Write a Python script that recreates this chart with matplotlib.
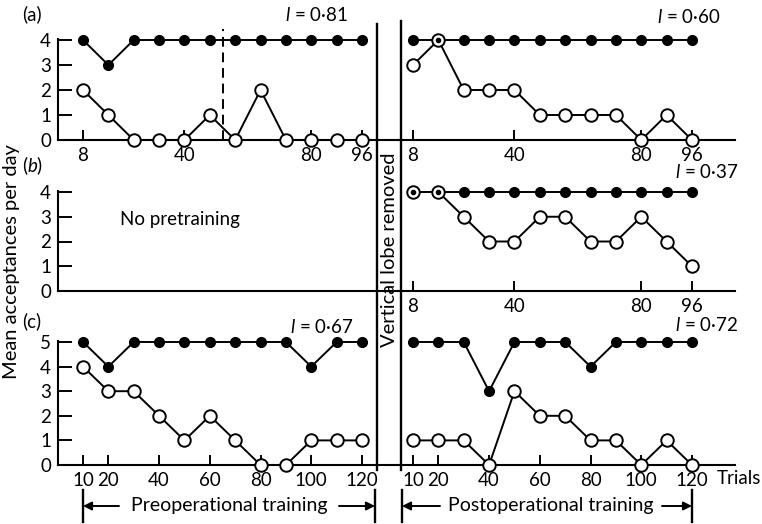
import matplotlib
matplotlib.use("Agg")
import matplotlib.pyplot as plt
from matplotlib.lines import Line2D
from matplotlib.patches import FancyArrowPatch

plt.rcParams["font.family"] = ["Lato", "DejaVu Sans"]
plt.rcParams["mathtext.fontset"] = "custom"
plt.rcParams["mathtext.it"] = "Lato:italic"
plt.rcParams["mathtext.rm"] = "Lato"

# Trials (x values)
trials_8 = [8, 16, 24, 32, 40, 48, 56, 64, 72, 80, 88, 96]
trials_10 = [10, 20, 30, 40, 50, 60, 70, 80, 90, 100, 110, 120]
ticks_8 = [8, 40, 80, 96]
ticks_10 = [10, 20, 40, 60, 80, 100, 120]

# (a) pre / post operation
a_pre_filled = [4, 3, 4, 4, 4, 4, 4, 4, 4, 4, 4, 4]
a_pre_open = [2, 1, 0, 0, 0, 1, 0, 2, 0, 0, 0, 0]
a_post_filled = [4, 4, 4, 4, 4, 4, 4, 4, 4, 4, 4, 4]
a_post_open = [3, 4, 2, 2, 2, 1, 1, 1, 1, 0, 1, 0]
a_dashed_trial = 52

# (b) only post operation
b_post_filled = [4, 4, 4, 4, 4, 4, 4, 4, 4, 4, 4, 4]
b_post_open = [4, 4, 3, 2, 2, 3, 3, 2, 2, 3, 2, 1]

# (c) pre / post operation
c_pre_filled = [5, 4, 5, 5, 5, 5, 5, 5, 5, 4, 5, 5]
c_pre_open = [4, 3, 3, 2, 1, 2, 1, 0, 0, 1, 1, 1]
c_post_filled = [5, 5, 5, 3, 5, 5, 5, 4, 5, 5, 5, 5]
c_post_open = [1, 1, 1, 0, 3, 2, 2, 1, 1, 0, 1, 0]

l_values = {"a_pre": "0·81", "a_post": "0·60", "b_post": "0·37",
            "c_pre": "0·67", "c_post": "0·72"}

W, H = 762, 524
fig = plt.figure(figsize=(W / 100, H / 100), dpi=100)
FS = 13.5


def px_axes(L, R, T, B):
    return fig.add_axes([L / W, 1 - B / H, (R - L) / W, (B - T) / H])


def xlim_from(L, R, p1, v1, p2, v2):
    s = (p2 - p1) / (v2 - v1)
    return v1 - (p1 - L) / s, v1 + (R - p1) / s


def panel(L, R, T, B, p1, v1, p2, v2, unit_px, ymax_tick, ticks, left_side):
    ax = px_axes(L, R, T, B)
    ax.set_xlim(*xlim_from(L, R, p1, v1, p2, v2))
    ax.set_ylim(0, (B - T) / unit_px)
    ax.patch.set_alpha(0)
    for s in ["top", "right"]:
        ax.spines[s].set_visible(False)
    ax.spines["bottom"].set_linewidth(1.5)
    ax.set_xticks(ticks)
    ax.set_xticklabels([str(t) for t in ticks], fontsize=FS)
    ax.tick_params(axis="x", direction="in", length=7, width=1.4, pad=5)
    if left_side:
        ax.spines["left"].set_linewidth(1.5)
        ax.spines["left"].set_bounds(0, ymax_tick + 0.05)
        ax.set_yticks(range(ymax_tick + 1))
        ax.set_yticklabels([str(t) for t in range(ymax_tick + 1)], fontsize=FS)
        ax.tick_params(axis="y", direction="in", length=10, width=1.4, pad=5)
    else:
        ax.spines["left"].set_visible(False)
        ax.set_yticks([])
    return ax


def series(ax, x, y_open, y_filled):
    ax.plot(x, y_filled, "-", color="black", lw=1.4, marker="o", ms=7,
            mfc="black", mec="black", clip_on=False, zorder=3)
    ax.plot(x, y_open, "-", color="black", lw=1.4, marker="o", ms=9,
            mfc="white", mec="black", mew=1.4, clip_on=False, zorder=4)
    # where both series meet, the filled dot shows through as a centre dot
    both = [(xi, yo) for xi, yo, yf in zip(x, y_open, y_filled) if yo == yf]
    if both:
        ax.plot([p[0] for p in both], [p[1] for p in both], "o", ms=3,
                color="black", clip_on=False, zorder=5)


def l_label(x, y, value):
    fig.text(x / W, 1 - y / H, r"$\mathit{l}$ = " + value, fontsize=FS,
             ha="left", va="center")


LL, LR = 58, 398
RL, RR = 398, 735

# (a)
ax = panel(LL, LR, 25, 140, 83, 8, 362, 96, 25, 4, ticks_8, True)
series(ax, trials_8, a_pre_open, a_pre_filled)
ax.plot([a_dashed_trial, a_dashed_trial], [0, 4.45], "--", color="black",
        lw=1.4, dashes=(5, 3), clip_on=False)
ax = panel(RL, RR, 25, 140, 413, 8, 692, 96, 25, 4, ticks_8, False)
series(ax, trials_8, a_post_open, a_post_filled)

# (b)
ax = panel(LL, LR, 170, 291, 83, 8, 362, 96, 24.75, 4, [], True)
fig.text(180 / W, 1 - 219 / H, "No pretraining", fontsize=FS,
         ha="center", va="center")
ax = panel(RL, RR, 170, 291, 413, 8, 692, 96, 24.75, 4, ticks_8, False)
series(ax, trials_8, b_post_open, b_post_filled)

# (c)
ax = panel(LL, LR, 318, 465, 83, 10, 362, 120, 24.6, 5, ticks_10, True)
series(ax, trials_10, c_pre_open, c_pre_filled)
ax = panel(RL, RR, 318, 465, 413, 10, 692, 120, 24.6, 5, ticks_10, False)
series(ax, trials_10, c_post_open, c_post_filled)

# l values
l_label(285, 15, l_values["a_pre"])
l_label(657, 17, l_values["a_post"])
l_label(675, 172, l_values["b_post"])
l_label(290, 327, l_values["c_pre"])
l_label(675, 325, l_values["c_post"])

# panel letters
fig.text(22 / W, 1 - 14 / H, "(a)", fontsize=FS, va="center")
fig.text(22 / W, 1 - 166 / H, "($\\mathit{b}$)", fontsize=FS, va="center")
fig.text(22 / W, 1 - 321 / H, "(c)", fontsize=FS, va="center")

fig.text(12 / W, 1 - 262 / H, "Mean acceptances per day", fontsize=14.5,
         rotation=90, ha="center", va="center")
fig.text(389 / W, 1 - 250 / H, "Vertical lobe removed", fontsize=14.5,
         rotation=90, ha="center", va="center")
fig.text(761 / W, 1 - 478 / H, "Trials", fontsize=FS, ha="right", va="center")


def fline(x0, y0, x1, y1, **kw):
    fig.add_artist(Line2D([x0 / W, x1 / W], [1 - y0 / H, 1 - y1 / H],
                          transform=fig.transFigure, color="black", **kw))


# separating vertical lines
fline(377, 24, 377, 470, lw=1.7)
fline(401, 21, 401, 470, lw=1.7)


def bracket(x0, x1, y, label, a0, a1):
    fline(x0, 490, x0, 522, lw=1.7)
    fline(x1, 490, x1, 522, lw=1.7)
    fig.text((a0 + a1) / 2 / W, 1 - y / H, label, fontsize=14,
             ha="center", va="center")
    for a, b in [(a0, x0), (a1, x1)]:
        fig.add_artist(FancyArrowPatch(
            (a / W, 1 - y / H), (b / W, 1 - y / H), transform=fig.transFigure,
            arrowstyle="-|>,head_length=5,head_width=2.5", color="black",
            lw=1.4, shrinkA=0, shrinkB=0))


bracket(83, 375, 506, "Preoperational training", 119, 339)
bracket(402, 692, 506, "Postoperational training", 440, 662)

plt.savefig("out.png", dpi=100)
